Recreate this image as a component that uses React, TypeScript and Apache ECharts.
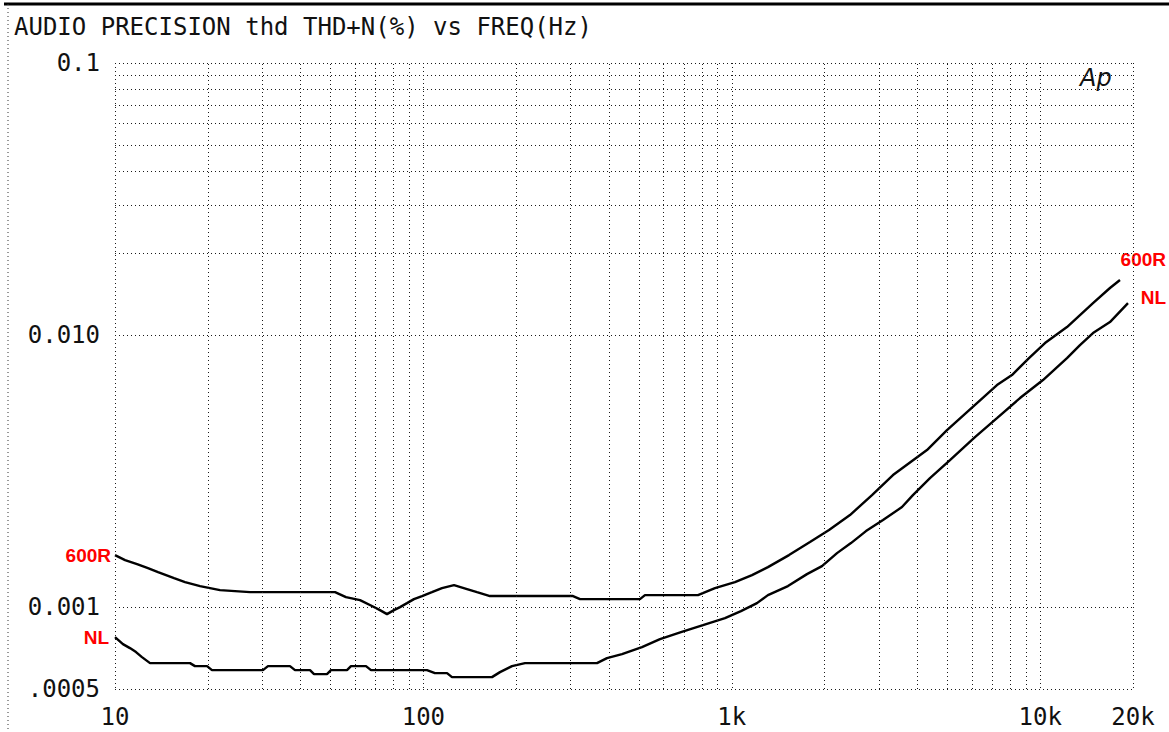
import React, { useEffect, useRef } from "react";
import * as echarts from "echarts";

// 600R curve (Hz, THD+N %)
const freq600R = [10, 10.78, 11.79, 12.79, 13.79, 15.54, 16.87, 18.87, 21.9, 27.4, 51.7, 56.1, 62.3, 68.1, 72.3, 76.2, 80.3, 84.0, 88.5, 93.2, 99.0, 106.6, 114.9, 125.7, 138.5, 149.2, 164.4, 305.6, 322, 503.9, 523, 777, 882, 1024, 1163, 1310, 1533, 1793, 2067, 2417, 2849, 3332, 4295, 4987, 6239, 7243, 8101, 9199, 10366, 12217, 14836, 16839, 18150];
const thd600R = [0.001553, 0.001489, 0.001439, 0.001391, 0.001345, 0.001278, 0.001236, 0.001195, 0.001155, 0.001135, 0.001135, 0.001088, 0.001061, 0.001009, 0.000975, 0.0009425, 0.000975, 0.001, 0.001034, 0.00107, 0.001098, 0.001135, 0.001175, 0.001205, 0.001165, 0.001135, 0.001098, 0.001098, 0.00107, 0.00107, 0.001107, 0.001107, 0.001175, 0.001236, 0.001311, 0.001403, 0.001553, 0.001734, 0.001919, 0.002179, 0.002581, 0.003057, 0.003778, 0.004473, 0.005623, 0.00655, 0.007128, 0.00823, 0.009346, 0.0107, 0.01311, 0.01489, 0.01593];

// NL curve (Hz, THD+N %)
const freqNL = [10, 10.61, 11.18, 11.7, 12.23, 12.99, 17.51, 18.17, 19.88, 20.63, 30.19, 31.34, 36.93, 38.34, 42.89, 44.19, 48.69, 50.15, 56.53, 58.24, 65.15, 67.62, 102.7, 109.0, 119.3, 123.8, 166.9, 177.2, 193.8, 213.5, 365.5, 393.8, 440.6, 511.4, 585.1, 684.4, 806.6, 950.6, 1071, 1207, 1310, 1521, 1753, 1961, 2194, 2435, 2724, 3093, 3564, 3867, 4392, 5100, 6146, 7243, 8602, 10212, 12217, 13459, 14836, 16839, 19266];
const thdNL = [0.0007757, 0.0007311, 0.0007068, 0.0006832, 0.0006548, 0.0006223, 0.0006223, 0.0006067, 0.0006067, 0.0005866, 0.0005866, 0.0006067, 0.0006067, 0.0005866, 0.0005866, 0.0005671, 0.0005671, 0.0005866, 0.0005866, 0.0006067, 0.0006067, 0.0005866, 0.0005866, 0.0005719, 0.0005719, 0.0005529, 0.0005529, 0.0005768, 0.0006067, 0.0006223, 0.0006223, 0.0006494, 0.0006716, 0.0007128, 0.0007627, 0.0008091, 0.0008587, 0.0009111, 0.0009667, 0.001034, 0.001107, 0.001195, 0.001322, 0.001415, 0.001579, 0.001719, 0.001903, 0.002089, 0.002332, 0.002581, 0.002981, 0.003471, 0.004217, 0.004953, 0.005867, 0.006833, 0.00823, 0.009189, 0.01017, 0.01116, 0.01311];

// Minor grid positions
const xMinorGrid = [20, 30, 40, 50, 60, 70, 80, 90, 200, 300, 400, 500, 600, 700, 800, 900, 2000, 3000, 4000, 5000, 6000, 7000, 8000, 9000];
const yMinorGrid = [0.0006, 0.0007, 0.0008, 0.0009, 0.002, 0.003, 0.004, 0.005, 0.006, 0.007, 0.008, 0.009, 0.02, 0.03, 0.04, 0.05, 0.06, 0.07, 0.08, 0.09];

// Tick labels
const xTickValues = [10, 100, 1000, 10000, 20000];
const xTickTexts = ["10", "100", "1k", "10k", "20k"];
const yTickValues = [0.0005, 0.001, 0.01, 0.1];
const yTickTexts = [".0005", "0.001", "0.010", "0.1"];

const TITLE = "AUDIO PRECISION thd THD+N(%) vs FREQ(Hz)";

function nearestLabel(v: number, vals: number[], texts: string[]) {
  const lv = Math.log10(v);
  let best = 0;
  let bd = Infinity;
  vals.forEach((t, i) => {
    const d = Math.abs(Math.log10(t) - lv);
    if (d < bd) {
      bd = d;
      best = i;
    }
  });
  return bd < 0.05 ? texts[best] : "";
}

const MONO = '"DejaVu Sans Mono", "Liberation Mono", monospace';
const dotted = { type: [1, 3] as number[], color: "#1a1a1a", width: 1 };
const RED_FONT = 'bold 19px "Liberation Sans", Arial';

export default function App() {
  const ref = useRef<HTMLDivElement>(null);
  useEffect(() => {
    if (!ref.current) return;
    const chart = echarts.init(ref.current, undefined, { renderer: "svg" });
    chart.setOption({
      animation: false,
      backgroundColor: "#fff",
      title: {
        text: TITLE,
        left: 14,
        top: 15,
        padding: 0,
        textStyle: { fontFamily: MONO, fontSize: 24, fontWeight: "normal", color: "#111" },
      },
      grid: { left: 115, right: 36, top: 63, bottom: 43 },
      xAxis: {
        type: "log",
        logBase: 10,
        min: 10,
        max: 20000,
        axisLine: { show: false },
        axisTick: { show: false },
        axisLabel: {
          fontFamily: MONO,
          fontSize: 24,
          color: "#111",
          margin: 16,
          formatter: (v: number) => nearestLabel(v, xTickValues, xTickTexts),
        },
        splitLine: { show: true, lineStyle: dotted },
      },
      yAxis: {
        type: "log",
        logBase: 10,
        min: 0.0005,
        max: 0.1,
        axisLine: { show: false },
        axisTick: { show: false },
        axisLabel: {
          fontFamily: MONO,
          fontSize: 24,
          color: "#111",
          margin: 15,
          formatter: (v: number) => nearestLabel(v, yTickValues, yTickTexts),
        },
        splitLine: { show: true, lineStyle: dotted },
      },
      series: [
        {
          type: "line",
          name: "grid",
          data: [],
          z: 1,
          silent: true,
          markLine: {
            silent: true,
            symbol: ["none", "none"],
            label: { show: false },
            lineStyle: dotted,
            emphasis: { disabled: true },
            data: [
              ...xMinorGrid.map((v) => ({ xAxis: v })),
              ...yMinorGrid.map((v) => ({ yAxis: v })),
            ],
          },
        },
        {
          type: "line",
          name: "600R",
          data: freq600R.map((f, i) => [f, thd600R[i]]),
          symbol: "none",
          z: 3,
          lineStyle: { color: "#000", width: 2.4 },
        },
        {
          type: "line",
          name: "NL",
          data: freqNL.map((f, i) => [f, thdNL[i]]),
          symbol: "none",
          z: 3,
          lineStyle: { color: "#000", width: 2.4 },
        },
      ],
      graphic: [
        { type: "line", shape: { x1: 4, y1: 4, x2: 1169, y2: 4 }, style: { stroke: "#000", lineWidth: 3 } },
        { type: "line", shape: { x1: 8, y1: 4, x2: 8, y2: 732 }, style: { stroke: "#333", lineWidth: 1, lineDash: [1, 3] } },
        {
          type: "text",
          x: 1080,
          y: 78,
          style: { text: "Ap", font: 'italic 24px "DejaVu Sans"', fill: "#111", textVerticalAlign: "middle" },
        },
        {
          type: "text",
          x: 111,
          y: 555,
          style: { text: "600R", font: RED_FONT, fill: "#ff0000", textAlign: "right", textVerticalAlign: "middle" },
        },
        {
          type: "text",
          x: 109,
          y: 637,
          style: { text: "NL", font: RED_FONT, fill: "#ff0000", textAlign: "right", textVerticalAlign: "middle" },
        },
        {
          type: "text",
          x: 1166,
          y: 259,
          style: { text: "600R", font: RED_FONT, fill: "#ff0000", textAlign: "right", textVerticalAlign: "middle" },
        },
        {
          type: "text",
          x: 1166,
          y: 297,
          style: { text: "NL", font: RED_FONT, fill: "#ff0000", textAlign: "right", textVerticalAlign: "middle" },
        },
      ],
    });
    return () => chart.dispose();
  }, []);
  return (
    <div
      ref={ref}
      style={{ position: "absolute", left: 0, top: 0, width: 1169, height: 732 }}
    />
  );
}
